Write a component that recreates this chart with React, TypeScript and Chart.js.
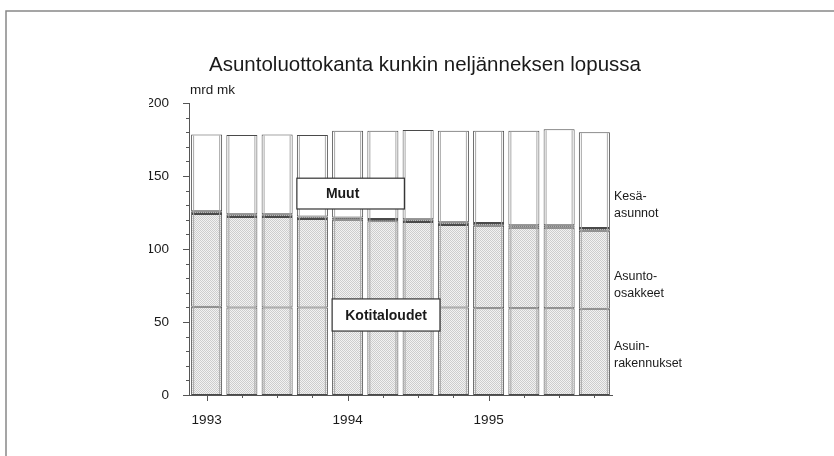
import React, { useEffect, useRef } from 'react';
import { Chart, registerables } from 'chart.js';

Chart.register(...registerables);

const categories = [
  '1993 Q1', '1993 Q2', '1993 Q3', '1993 Q4',
  '1994 Q1', '1994 Q2', '1994 Q3', '1994 Q4',
  '1995 Q1', '1995 Q2', '1995 Q3', '1995 Q4',
];
const yearLabels = ['1993', '', '', '', '1994', '', '', '', '1995', '', '', ''];
const asuinrakennukset = [60.5, 60, 60, 60, 60, 60, 60, 60, 59.5, 59.5, 59.5, 59];
const asuntoOsakkeet = [63.5, 62, 62, 60.5, 60, 59, 58.5, 56.5, 56.5, 55, 55, 53.5];
const kesaasunnot = [1.8, 1.8, 1.8, 1.8, 1.6, 1.6, 1.8, 1.9, 1.8, 1.8, 1.8, 1.9];
const muut = [52.7, 54.2, 54.7, 55.7, 59.4, 60.4, 61.2, 62.6, 63.2, 64.7, 65.7, 65.6];
const yTickValues = [0, 50, 100, 150, 200];

const TITLE = 'Asuntoluottokanta kunkin neljänneksen lopussa';
const UNIT = 'mrd mk';
const FONT = '"Liberation Sans", Arial, Helvetica, sans-serif';

const rightLabels = [
  { lines: ['Kesä-', 'asunnot'], y: 197 },
  { lines: ['Asunto-', 'osakkeet'], y: 277 },
  { lines: ['Asuin-', 'rakennukset'], y: 347 },
];

function makePattern(ctx: CanvasRenderingContext2D, base: string, dot: string) {
  const cv = document.createElement('canvas');
  cv.width = 2;
  cv.height = 2;
  const g = cv.getContext('2d')!;
  g.fillStyle = base;
  g.fillRect(0, 0, 2, 2);
  g.fillStyle = dot;
  g.fillRect(0, 0, 1, 1);
  g.fillRect(1, 1, 1, 1);
  return ctx.createPattern(cv, 'repeat') as CanvasPattern;
}

const decor = {
  id: 'decor',
  beforeDraw(chart: any) {
    const ctx = chart.ctx as CanvasRenderingContext2D;
    ctx.save();
    ctx.fillStyle = '#ffffff';
    ctx.fillRect(0, 0, chart.width, chart.height);
    ctx.strokeStyle = '#888';
    ctx.lineWidth = 1.5;
    ctx.beginPath();
    ctx.moveTo(6, chart.height);
    ctx.lineTo(6, 11);
    ctx.lineTo(chart.width, 11);
    ctx.stroke();
    ctx.restore();
  },
  afterDatasetsDraw(chart: any) {
    const ctx = chart.ctx as CanvasRenderingContext2D;
    const xs = chart.scales.x;
    const ys = chart.scales.y;
    const area = chart.chartArea;
    ctx.save();

    // inner edge lines of bars
    ctx.strokeStyle = '#a8a8a8';
    ctx.lineWidth = 1;
    const metaTop = chart.getDatasetMeta(3);
    const metaBot = chart.getDatasetMeta(0);
    metaTop.data.forEach((el: any, i: number) => {
      const b = metaBot.data[i];
      const l = el.x - el.width / 2 + 2.5;
      const r = el.x + el.width / 2 - 2.5;
      ctx.beginPath();
      ctx.moveTo(l, el.y + 1);
      ctx.lineTo(l, b.base - 1);
      ctx.moveTo(r, el.y + 1);
      ctx.lineTo(r, b.base - 1);
      ctx.stroke();
    });

    // ticks
    ctx.strokeStyle = '#555';
    ctx.lineWidth = 1;
    ctx.beginPath();
    for (let v = 0; v <= 200; v += 10) {
      const py = Math.round(ys.getPixelForValue(v)) + 0.5;
      const len = v % 50 === 0 ? 6 : 3;
      ctx.moveTo(area.left - len, py);
      ctx.lineTo(area.left, py);
    }
    for (let i = 0; i < categories.length; i++) {
      const px = Math.round(xs.getPixelForValue(i)) + 0.5;
      const len = yearLabels[i] ? 6 : 3;
      ctx.moveTo(px, area.bottom);
      ctx.lineTo(px, area.bottom + len);
    }
    ctx.stroke();

    // annotation boxes
    const box = (x0: number, x1: number, v0: number, v1: number, text: string, shift: number) => {
      const left = xs.getPixelForValue(x0);
      const right = xs.getPixelForValue(x1);
      const top = ys.getPixelForValue(v0);
      const bottom = ys.getPixelForValue(v1);
      ctx.fillStyle = '#fff';
      ctx.fillRect(left, top, right - left, bottom - top);
      ctx.strokeStyle = '#333';
      ctx.lineWidth = 1.2;
      ctx.strokeRect(left, top, right - left, bottom - top);
      ctx.fillStyle = '#1a1a1a';
      ctx.font = 'bold 14px ' + FONT;
      ctx.textAlign = 'center';
      ctx.textBaseline = 'middle';
      ctx.fillText(text, (left + right) / 2 + shift, (top + bottom) / 2 + 1);
    };
    box(2.56, 5.61, 148.5, 127.4, 'Muut', -8);
    box(3.56, 6.62, 65.8, 43.8, 'Kotitaloudet', 0);

    // title and unit
    ctx.fillStyle = '#1a1a1a';
    ctx.textAlign = 'left';
    ctx.textBaseline = 'alphabetic';
    ctx.font = '20.5px ' + FONT;
    ctx.fillText(TITLE, 209, 71);
    ctx.font = '13.5px ' + FONT;
    ctx.textBaseline = 'middle';
    ctx.fillText(UNIT, 190, 90);

    // right labels
    ctx.font = '12.5px ' + FONT;
    const lx = area.right + 2;
    rightLabels.forEach((lab) => {
      lab.lines.forEach((t, j) => ctx.fillText(t, lx, lab.y + j * 17));
    });
    ctx.restore();
  },
};

export default function App() {
  const ref = useRef<HTMLCanvasElement | null>(null);
  useEffect(() => {
    document.body.style.margin = '0';
    const canvas = ref.current!;
    const ctx = canvas.getContext('2d')!;
    const stipple = makePattern(ctx, '#f2f2f2', '#cdcdcd');
    const dark = makePattern(ctx, '#b4b4b4', '#5a5a5a');
    const common = { borderColor: '#4a4a4a', borderWidth: 1, borderSkipped: false as const };
    const chart = new Chart(canvas, {
      type: 'bar',
      data: {
        labels: categories,
        datasets: [
          { label: 'Asuinrakennukset', data: asuinrakennukset, backgroundColor: stipple, ...common },
          { label: 'Asunto-osakkeet', data: asuntoOsakkeet, backgroundColor: stipple, ...common },
          { label: 'Kesäasunnot', data: kesaasunnot, backgroundColor: dark, ...common },
          { label: 'Muut', data: muut, backgroundColor: '#ffffff', ...common },
        ],
      },
      options: {
        animation: false,
        responsive: false,
        maintainAspectRatio: false,
        layout: { padding: { left: 149, right: 222, top: 103, bottom: 31 } },
        datasets: { bar: { barPercentage: 0.88, categoryPercentage: 1 } },
        plugins: { legend: { display: false }, tooltip: { enabled: false }, title: { display: false } },
        scales: {
          x: {
            stacked: true,
            offset: true,
            grid: { display: false },
            border: { display: true, color: '#555', width: 1 },
            ticks: {
              autoSkip: false,
              maxRotation: 0,
              padding: 9,
              color: '#1a1a1a',
              font: { family: FONT, size: 13.5 },
              callback: (_v: any, i: number) => yearLabels[i],
            },
            afterFit: (s: any) => { s.height = 30; },
          },
          y: {
            stacked: true,
            min: 0,
            max: 200,
            grid: { display: false },
            border: { display: true, color: '#555', width: 1 },
            afterBuildTicks: (s: any) => { s.ticks = yTickValues.map((v) => ({ value: v })); },
            ticks: {
              padding: 12,
              color: '#1a1a1a',
              font: { family: FONT, size: 13.5 },
            },
            afterFit: (s: any) => { s.width = 40; },
          },
        },
      },
      plugins: [decor],
    });
    return () => chart.destroy();
  }, []);
  return (
    <div style={{ width: 834, height: 456 }}>
      <canvas ref={ref} width={834} height={456} style={{ display: 'block' }} />
    </div>
  );
}
